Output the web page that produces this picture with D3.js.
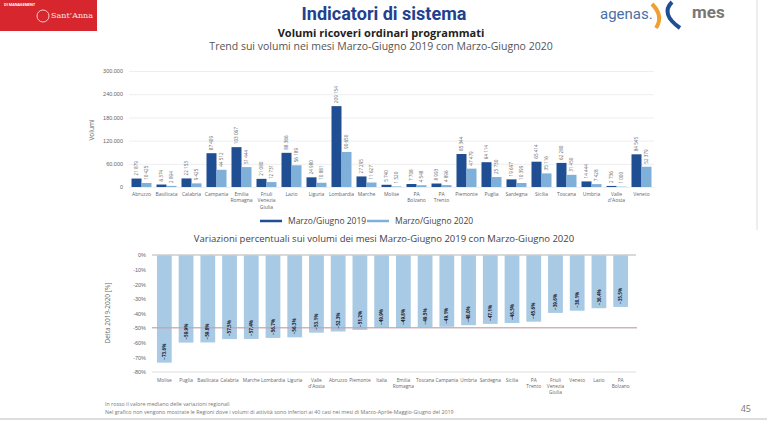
<!DOCTYPE html>
<html>
<head>
<meta charset="utf-8">
<script src="https://cdn.jsdelivr.net/npm/d3@7"></script>
<style>
  body { margin: 0; background: #fff; }
  svg { display: block; font-family: "Open Sans", "Noto Sans", sans-serif; }
</style>
</head>
<body>
<div id="chart-area"></div>
<script>
// volumi ricoveri ordinari programmati, marzo-giugno
const regions = ['Abruzzo', 'Basilicata', 'Calabria', 'Campania', 'Emilia Romagna',
  'Friuli Venezia Giulia', 'Lazio', 'Liguria', 'Lombardia', 'Marche', 'Molise',
  'PA Bolzano', 'PA Trento', 'Piemonte', 'Puglia', 'Sardegna', 'Sicilia', 'Toscana',
  'Umbria', "Valle d'Aosta", 'Veneto'];
const volumes2019 = [21879, 6374, 22153, 87409, 103067, 21080, 88386, 24980, 209154,
  27295, 5740, 7708, 8993, 85344, 64114, 19697, 65414, 62280, 14444, 2736, 84545];
const volumes2020 = [10425, 2894, 9425, 44512, 51444, 12731, 56189, 10881, 90650,
  11627, 1520, 4548, 4896, 47479, 25730, 10399, 35116, 31450, 7428, 1000, 52379];
const volumeTicks = [0, 60000, 120000, 180000, 240000, 300000];
const seriesNames = ['Marzo/Giugno 2019', 'Marzo/Giugno 2020'];

// variazioni percentuali, ordinate
const deltaRegions = ['Molise', 'Puglia', 'Basilicata', 'Calabria', 'Marche', 'Lombardia',
  'Liguria', "Valle d'Aosta", 'Abruzzo', 'Piemonte', 'Italia', 'Emilia Romagna', 'Toscana',
  'Campania', 'Umbria', 'Sardegna', 'Sicilia', 'PA Trento', 'Friuli Venezia Giulia',
  'Veneto', 'Lazio', 'PA Bolzano'];
const deltaValues = [-73.6, -59.9, -59.8, -57.5, -57.4, -56.7, -56.3, -53.1, -52.3, -51.2,
  -49.9, -49.8, -49.5, -49.1, -48.0, -47.1, -46.5, -45.6, -39.6, -38.1, -36.4, -35.5];
const deltaTicks = [0, -10, -20, -30, -40, -50, -60, -70, -80];

const W = 767, H = 422;
const darkBlue = '#1f4e92';
const lightBlue = '#7fb0da';
const paleBlue = '#a9cae4';
const greyText = '#666';

const itLocale = d3.formatLocale({ decimal: ',', thousands: '.', grouping: [3], currency: ['', ''] });
const fmtAxis = itLocale.format(',');
const fmtLabel = d3.formatLocale({ decimal: ',', thousands: ' ', grouping: [3], currency: ['', ''] }).format(',');

const svg = d3.select('#chart-area').append('svg')
  .attr('width', W)
  .attr('height', H);

drawHeader();
drawVolumes();
drawDeltas();
drawFooter();

function drawHeader() {
  // logo scuola
  svg.append('rect').attr('x', 0).attr('y', 0).attr('width', 97).attr('height', 31).attr('fill', '#d8262f');
  svg.append('text').attr('x', 4).attr('y', 6).attr('font-size', 3.6).attr('font-weight', 'bold')
    .attr('fill', '#fff').text('DI MANAGEMENT');
  svg.append('circle').attr('cx', 43).attr('cy', 16).attr('r', 6)
    .attr('fill', 'none').attr('stroke', '#f1c9c9').attr('stroke-width', 1);
  svg.append('text').attr('x', 51).attr('y', 18).attr('font-size', 8)
    .attr('font-family', 'DejaVu Serif, serif').attr('fill', '#f4e6e6').text('Sant\u2019Anna');

  svg.append('text').attr('x', 384).attr('y', 20).attr('text-anchor', 'middle')
    .attr('font-size', 18).attr('font-weight', 'bold').attr('fill', '#23408e')
    .attr('font-family', 'Roboto, sans-serif').text('Indicatori di sistema');

  // agenas / mes
  svg.append('text').attr('x', 600).attr('y', 19).attr('font-size', 15)
    .attr('fill', '#4a6fa5').attr('font-family', 'Roboto, sans-serif').text('agenas.');
  svg.append('path').attr('d', 'M652,4 Q664,16 656,28').attr('fill', 'none')
    .attr('stroke', '#f0a030').attr('stroke-width', 4);
  svg.append('path').attr('d', 'M672,2 Q660,14 680,28').attr('fill', 'none')
    .attr('stroke', '#1f4e92').attr('stroke-width', 4);
  svg.append('text').attr('x', 692).attr('y', 18).attr('font-size', 17).attr('font-weight', 'bold')
    .attr('fill', '#777').attr('font-family', 'Roboto, sans-serif').text('mes');
  svg.append('line').attr('x1', 757).attr('x2', 757).attr('y1', 0).attr('y2', 230)
    .attr('stroke', '#ddd');

  svg.append('text').attr('x', 381).attr('y', 37).attr('text-anchor', 'middle')
    .attr('font-size', 11).attr('font-weight', 'bold').attr('fill', '#222')
    .text('Volumi ricoveri ordinari programmati');
  svg.append('text').attr('x', 381).attr('y', 50).attr('text-anchor', 'middle')
    .attr('font-size', 10.5).attr('fill', '#555')
    .text('Trend sui volumi nei mesi Marzo-Giugno 2019 con Marzo-Giugno 2020');
}

function drawVolumes() {
  const data = regions.map((r, i) => ({ region: r, values: [volumes2019[i], volumes2020[i]] }));

  const x0 = d3.scaleBand().domain(regions).range([129, 654]).paddingInner(0.2).paddingOuter(0.1);
  const x1 = d3.scaleBand().domain([0, 1]).range([0, x0.bandwidth()]);
  const y = d3.scaleLinear().domain([0, 300000]).range([187, 71]);
  const colors = [darkBlue, lightBlue];

  const g = svg.append('g');

  // griglia
  const yAxis = d3.axisLeft(y).tickValues(volumeTicks).tickFormat(fmtAxis)
    .tickSize(-(654 - 129)).tickPadding(6);
  const ya = g.append('g').attr('transform', 'translate(129,0)').call(yAxis);
  ya.select('.domain').remove();
  ya.selectAll('line').attr('stroke', '#eee');
  ya.selectAll('text').attr('font-size', 5.5).attr('fill', greyText);

  g.append('text')
    .attr('transform', 'translate(94,130) rotate(-90)')
    .attr('text-anchor', 'middle').attr('font-size', 6.5).attr('fill', greyText)
    .text('Volumi');

  const groups = g.selectAll('.grp').data(data).enter().append('g')
    .attr('transform', d => `translate(${x0(d.region)},0)`);

  groups.selectAll('rect').data(d => d.values).enter().append('rect')
    .attr('x', (d, i) => x1(i))
    .attr('y', d => y(d))
    .attr('width', x1.bandwidth())
    .attr('height', d => y(0) - y(d))
    .attr('fill', (d, i) => colors[i]);

  groups.selectAll('.val').data(d => d.values).enter().append('text')
    .attr('transform', (d, i) => `translate(${x1(i) + x1.bandwidth() / 2},${y(d) - 3}) rotate(-90)`)
    .attr('dy', '0.35em')
    .attr('font-size', 4.6).attr('fill', greyText)
    .text(d => fmtLabel(d));

  // etichette asse x
  const xl = g.selectAll('.xl').data(regions).enter().append('text')
    .attr('x', d => x0(d) + x0.bandwidth() / 2)
    .attr('y', 196)
    .attr('text-anchor', 'middle').attr('font-size', 5).attr('fill', greyText);
  xl.selectAll('tspan').data(d => d.split(' ')).enter().append('tspan')
    .attr('x', function () { return d3.select(this.parentNode).attr('x'); })
    .attr('dy', (d, i) => i === 0 ? 0 : 6.3)
    .text(d => d);

  // legenda
  const legendX = [260, 367];
  const lg = svg.append('g').selectAll('g').data(seriesNames).enter().append('g')
    .attr('transform', (d, i) => `translate(${legendX[i]},221)`);
  lg.append('line').attr('x1', 0).attr('x2', 22).attr('stroke-width', 2.5)
    .attr('stroke', (d, i) => colors[i]);
  lg.append('text').attr('x', 28).attr('dy', '0.35em').attr('font-size', 8.5)
    .attr('fill', '#444').text(d => d);
}

function drawDeltas() {
  svg.append('text').attr('x', 384).attr('y', 242).attr('text-anchor', 'middle')
    .attr('font-size', 9.5).attr('fill', '#444')
    .text('Variazioni percentuali sui volumi dei mesi Marzo-Giugno 2019 con Marzo-Giugno 2020');

  const x = d3.scaleBand().domain(deltaRegions).range([150, 635]).padding(0.32);
  const y = d3.scaleLinear().domain([-80, 0]).range([372, 255]);
  const g = svg.append('g');

  const yAxis = d3.axisLeft(y).tickValues(deltaTicks).tickFormat(d => d + '%')
    .tickSize(0).tickPadding(4);
  const ya = g.append('g').attr('transform', 'translate(150,0)').call(yAxis);
  ya.select('.domain').remove();
  ya.selectAll('text').attr('font-size', 5.5).attr('fill', greyText);

  g.append('text')
    .attr('transform', 'translate(110,313) rotate(-90)')
    .attr('text-anchor', 'middle').attr('font-size', 6.5).attr('fill', greyText)
    .text('Delta 2019-2020 [%]');

  g.selectAll('rect').data(deltaValues).enter().append('rect')
    .attr('x', (d, i) => x(deltaRegions[i]))
    .attr('y', y(0))
    .attr('width', x.bandwidth())
    .attr('height', d => y(d) - y(0))
    .attr('fill', paleBlue);

  // linee 0% e -80%
  [0, -80].forEach(v => {
    g.append('line').attr('x1', 152).attr('x2', 636)
      .attr('y1', y(v)).attr('y2', y(v))
      .attr('stroke', v === 0 ? '#ccc' : '#ddd').attr('stroke-width', v === 0 ? 1.5 : 1);
  });

  // mediana regionale (Italia esclusa)
  const median = d3.median(deltaValues.filter((d, i) => deltaRegions[i] !== 'Italia'));
  g.append('line').attr('x1', 152).attr('x2', 637)
    .attr('y1', y(median)).attr('y2', y(median))
    .attr('stroke', '#c4a0a7').attr('stroke-opacity', 0.8).attr('stroke-width', 1.5);

  g.selectAll('.val').data(deltaValues).enter().append('text')
    .attr('transform', (d, i) => `translate(${x(deltaRegions[i]) + x.bandwidth() / 2},${y(d) - 3}) rotate(-90)`)
    .attr('dy', '0.35em')
    .attr('font-size', 4.6).attr('font-weight', 'bold').attr('fill', '#1a1a2e')
    .text(d => d3.format('.1f')(d) + '%');

  const xl = g.selectAll('.xl').data(deltaRegions).enter().append('text')
    .attr('x', d => x(d) + x.bandwidth() / 2)
    .attr('y', 382)
    .attr('text-anchor', 'middle').attr('font-size', 4.8).attr('fill', greyText);
  xl.selectAll('tspan').data(d => d.split(' ')).enter().append('tspan')
    .attr('x', function () { return d3.select(this.parentNode).attr('x'); })
    .attr('dy', (d, i) => i === 0 ? 0 : 6)
    .text(d => d);
}

function drawFooter() {
  svg.append('text').attr('x', 105).attr('y', 406).attr('font-size', 5.3).attr('fill', '#777')
    .text('In rosso il valore mediano delle variazioni regionali');
  svg.append('text').attr('x', 105).attr('y', 414).attr('font-size', 5.3).attr('fill', '#777')
    .text('Nel grafico non vengono mostrate le Regioni dove i volumi di attività sono inferiori ai 40 casi nei mesi di Marzo-Aprile-Maggio-Giugno del 2019');
  svg.append('text').attr('x', 751).attr('y', 412).attr('text-anchor', 'end')
    .attr('font-size', 9).attr('fill', '#777').text('45');
  svg.append('line').attr('x1', 0).attr('x2', W).attr('y1', 419).attr('y2', 419)
    .attr('stroke', '#ddd').attr('stroke-width', 2);
}
</script>
</body>
</html>
